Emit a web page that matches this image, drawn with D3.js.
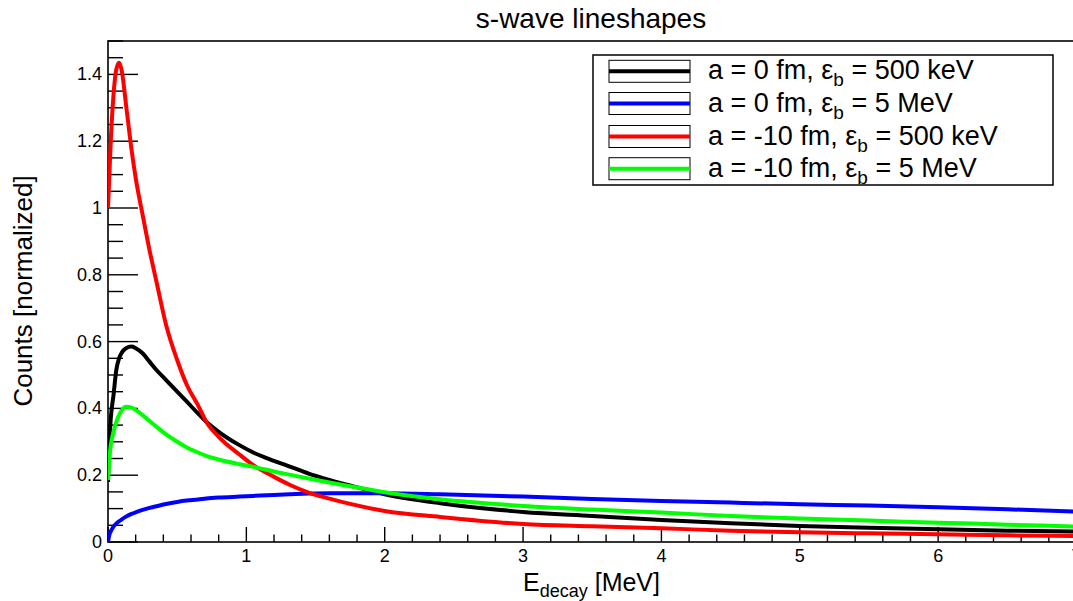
<!DOCTYPE html>
<html>
<head>
<meta charset="utf-8">
<script src="https://cdn.jsdelivr.net/npm/d3@7"></script>
<style>
  body { margin: 0; background: #fff; }
  svg { display: block; font-family: "Liberation Sans", Arial, sans-serif; }
</style>
</head>
<body>
<div id="chart"></div>
<script>
// Energy grid [MeV] shared by all curves
var energy = [0, 0.01, 0.02, 0.04, 0.06, 0.08, 0.1, 0.13, 0.17, 0.2, 0.25, 0.3, 0.35, 0.42, 0.5, 0.57, 0.65, 0.71, 0.8, 0.95,
              1.05, 1.2, 1.32, 1.45, 1.6, 1.75, 2, 2.4, 3, 3.5, 4, 4.5, 5, 5.5, 6, 6.5, 7];

// Lineshapes
var black500keV = [0.18, 0.3, 0.37, 0.44, 0.515, 0.55, 0.567, 0.58, 0.585, 0.58, 0.565, 0.54, 0.515, 0.485, 0.45, 0.42, 0.385, 0.36, 0.33, 0.29,
                   0.268, 0.243, 0.225, 0.205, 0.186, 0.169, 0.143, 0.116, 0.09, 0.078, 0.066, 0.056, 0.048, 0.043, 0.038, 0.034, 0.031];
var blue5MeV = [0, 0.022, 0.032, 0.046, 0.055, 0.062, 0.068, 0.076, 0.084, 0.089, 0.096, 0.102, 0.107, 0.114, 0.12, 0.124, 0.127, 0.13, 0.133, 0.136,
                0.138, 0.141, 0.143, 0.145, 0.146, 0.146, 0.146, 0.143, 0.136, 0.129, 0.123, 0.118, 0.113, 0.109, 0.104, 0.098, 0.091];
var red500keV = [1.0, 1.1, 1.2, 1.34, 1.415, 1.435, 1.41, 1.31, 1.175, 1.09, 0.98, 0.874, 0.78, 0.65, 0.545, 0.47, 0.41, 0.36, 0.315, 0.262,
                 0.23, 0.195, 0.17, 0.148, 0.13, 0.114, 0.093, 0.075, 0.054, 0.047, 0.041, 0.034, 0.029, 0.026, 0.023, 0.02, 0.018];
var green5MeV = [0.186, 0.25, 0.29, 0.33, 0.36, 0.38, 0.395, 0.405, 0.402, 0.395, 0.38, 0.362, 0.345, 0.322, 0.3, 0.283, 0.268, 0.258, 0.247, 0.233,
                 0.225, 0.211, 0.201, 0.19, 0.178, 0.167, 0.149, 0.128, 0.108, 0.097, 0.088, 0.078, 0.07, 0.064, 0.058, 0.052, 0.046];

var legendLabels = [
    ['a = 0 fm, ε', 'b', ' = 500 keV'],
    ['a = 0 fm, ε', 'b', ' = 5 MeV'],
    ['a = -10 fm, ε', 'b', ' = 500 keV'],
    ['a = -10 fm, ε', 'b', ' = 5 MeV']
];
var colors = ['#000000', '#0000ff', '#ff0000', '#00ff00'];
var series = [black500keV, blue5MeV, red500keV, green5MeV];

var xMajor = [0, 1, 2, 3, 4, 5, 6, 7];
var yMajor = [0, 0.2, 0.4, 0.6, 0.8, 1, 1.2, 1.4];

var width = 1073, height = 601;
var margin = {top: 41, left: 108, bottom: 59};
var plotRight = 1076.5;

var svg = d3.select('#chart').append('svg')
    .attr('width', width)
    .attr('height', height);

var x = d3.scaleLinear().domain([0, 7]).range([margin.left, plotRight]);
var y = d3.scaleLinear().domain([0, 1.5]).range([height - margin.bottom, margin.top]);

// Frame
svg.append('rect')
    .attr('x', x(0)).attr('y', y(1.5))
    .attr('width', x(7) - x(0)).attr('height', y(0) - y(1.5))
    .attr('fill', 'none').attr('stroke', '#000').attr('stroke-width', 1.6);

// X axis ticks (inward)
var xMinor = d3.range(0, 7.001, 0.2);
svg.append('g').selectAll('line').data(xMinor).enter().append('line')
    .attr('x1', function(d) { return x(d); }).attr('x2', function(d) { return x(d); })
    .attr('y1', y(0))
    .attr('y2', function(d) { return Math.abs(d - Math.round(d)) < 1e-6 ? y(0) - 15 : y(0) - 7.5; })
    .attr('stroke', '#000').attr('stroke-width', 1.4);
svg.append('g').selectAll('text').data(xMajor).enter().append('text')
    .attr('x', function(d) { return x(d); })
    .attr('y', y(0) + 20)
    .attr('text-anchor', 'middle')
    .style('font-size', '18px')
    .text(function(d) { return d; });

// Y axis ticks (inward)
var yMinor = d3.range(0, 1.5001, 0.05);
svg.append('g').selectAll('line').data(yMinor).enter().append('line')
    .attr('y1', function(d) { return y(d); }).attr('y2', function(d) { return y(d); })
    .attr('x1', x(0))
    .attr('x2', function(d) { return Math.abs(d * 5 - Math.round(d * 5)) < 1e-6 ? x(0) + 30 : x(0) + 15; })
    .attr('stroke', '#000').attr('stroke-width', 1.4);
svg.append('g').selectAll('text').data(yMajor).enter().append('text')
    .attr('x', x(0) - 6)
    .attr('y', function(d) { return y(d) + 6; })
    .attr('text-anchor', 'end')
    .style('font-size', '18px')
    .text(function(d) { return d; });

// Curves
var line = d3.line()
    .curve(d3.curveMonotoneX)
    .x(function(d) { return x(d[0]); })
    .y(function(d) { return y(d[1]); });

svg.append('defs').append('clipPath').attr('id', 'clip')
    .append('rect').attr('x', x(0)).attr('y', y(1.5)).attr('width', x(7) - x(0)).attr('height', y(0) - y(1.5));

series.forEach(function(values, i) {
    svg.append('path')
        .attr('clip-path', 'url(#clip)')
        .attr('fill', 'none')
        .attr('stroke', colors[i])
        .attr('stroke-width', 4)
        .attr('d', line(energy.map(function(e, j) { return [e, values[j]]; })));
});

// Title
svg.append('text')
    .attr('x', 591).attr('y', 28)
    .attr('text-anchor', 'middle')
    .style('font-family', '"Liberation Sans Narrow", "Arial Narrow", "Liberation Sans", sans-serif')
    .style('font-size', '28px')
    .text('s-wave lineshapes');

// Axis titles
var xt = svg.append('text')
    .attr('x', 523).attr('y', 591)
    .style('font-size', '25px');
xt.append('tspan').text('E');
xt.append('tspan').attr('dy', 6).style('font-size', '18px').text('decay');
xt.append('tspan').attr('dy', -6).text(' [MeV]');

svg.append('text')
    .attr('transform', 'translate(32,291) rotate(-90)')
    .attr('text-anchor', 'middle')
    .style('font-size', '26px')
    .text('Counts [normalized]');

// Legend
var legend = svg.append('g');
legend.append('rect')
    .attr('x', 593).attr('y', 55).attr('width', 460).attr('height', 130)
    .attr('fill', '#fff').attr('stroke', '#000').attr('stroke-width', 1.5);
var rowY = [71.3, 103.5, 136.5, 168.7];
legendLabels.forEach(function(lab, i) {
    legend.append('rect')
        .attr('x', 609).attr('y', rowY[i] - 11).attr('width', 81).attr('height', 22)
        .attr('fill', '#fff').attr('stroke', '#000').attr('stroke-width', 1);
    legend.append('line')
        .attr('x1', 609).attr('x2', 690).attr('y1', rowY[i]).attr('y2', rowY[i])
        .attr('stroke', colors[i]).attr('stroke-width', 4);
    var t = legend.append('text')
        .attr('x', 708).attr('y', rowY[i] + 8)
        .style('font-size', '27px');
    t.append('tspan').text(lab[0]);
    t.append('tspan').attr('dy', 7).style('font-size', '19px').text(lab[1]);
    t.append('tspan').attr('dy', -7).text(lab[2]);
});
</script>
</body>
</html>
